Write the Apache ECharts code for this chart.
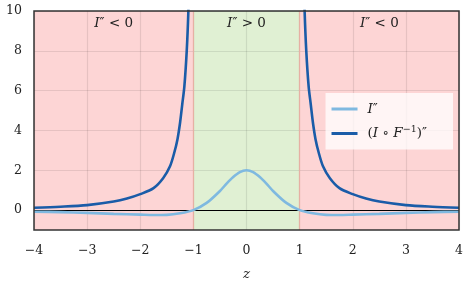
<!DOCTYPE html>
<html><head><meta charset="utf-8">
<script src="https://cdn.jsdelivr.net/npm/echarts@6/dist/echarts.min.js"></script>
<style>html,body{margin:0;padding:0;background:#fff}#c{width:471px;height:291px}</style>
</head><body><div id="c"></div>
<script>
// Data
const xTicks = [-4, -3, -2, -1, 0, 1, 2, 3, 4];
const yTicks = [0, 2, 4, 6, 8, 10];
const lightZ = [-4, -3.5, -3, -2.5, -2, -1.75, -1.5, -1.25, -1, -0.75, -0.5, -0.375, -0.25, -0.125, 0, 0.125, 0.25, 0.375, 0.5, 0.75, 1, 1.25, 1.5, 1.75, 2, 2.5, 3, 3.5, 4];
const lightV = [-0.08, -0.1, -0.14, -0.19, -0.23, -0.25, -0.24, -0.16, 0, 0.36, 0.96, 1.33, 1.66, 1.91, 2, 1.91, 1.66, 1.33, 0.96, 0.36, 0, -0.16, -0.24, -0.25, -0.23, -0.19, -0.14, -0.1, -0.08];
const darkLeftZ = [-4, -3.5, -3, -2.5, -2.25, -2, -1.75, -1.57, -1.44, -1.36, -1.3, -1.25, -1.21, -1.17, -1.125, -1.094, -1.07];
const darkLeftV = [0.12, 0.17, 0.25, 0.43, 0.58, 0.8, 1.1, 1.6, 2.2, 2.88, 3.55, 4.4, 5.3, 6.2, 8.0, 10.0, 12.5];
const darkRightZ = [1.07, 1.094, 1.125, 1.17, 1.21, 1.25, 1.3, 1.36, 1.44, 1.57, 1.75, 2, 2.25, 2.5, 3, 3.5, 4];
const darkRightV = [12.5, 10.0, 8.0, 6.2, 5.3, 4.4, 3.55, 2.88, 2.2, 1.6, 1.1, 0.8, 0.58, 0.43, 0.25, 0.17, 0.12];
const regions = [
  {from: -4, to: -1, label: 'neg'},
  {from: -1, to: 1, label: 'pos'},
  {from: 1, to: 4, label: 'neg'}
];

const serif = '"DejaVu Serif", "Liberation Serif", serif';
const rich = {
  i: {fontFamily: serif, fontStyle: 'italic', fontSize: 13.5, color: '#222'},
  t: {fontFamily: serif, fontSize: 13.5, color: '#222'},
  s: {fontFamily: serif, fontSize: 9.5, color: '#222', verticalAlign: 'top', padding: [0,0,7,0]}
};
const regionLabel = r => r.label === 'neg' ? '{i|I}{t|″ < 0}' : '{i|I}{t|″ > 0}';

const lightData = lightZ.map((z, i) => [z, lightV[i]]);
const darkData = darkLeftZ.map((z, i) => [z, darkLeftV[i]])
  .concat([[0, null]])
  .concat(darkRightZ.map((z, i) => [z, darkRightV[i]]));

const chart = echarts.init(document.getElementById('c'));
chart.setOption({
  animation: false,
  grid: {left: 34, right: 12, top: 11, bottom: 61, show: true, borderColor: '#333', borderWidth: 1.5, z: 6},
  xAxis: {
    type: 'value', min: -4, max: 4, interval: 1, z: 3,
    name: 'z', nameLocation: 'middle', nameGap: 37,
    nameTextStyle: {fontFamily: serif, fontStyle: 'italic', fontSize: 13.5, color: '#222'},
    axisLine: {show: false}, axisTick: {show: false},
    axisLabel: {fontFamily: serif, fontSize: 12.5, color: '#222', margin: 14,
      formatter: v => xTicks.includes(v) ? (v < 0 ? '\u2212' + Math.abs(v) : String(v)) : ''},
    splitLine: {show: true, lineStyle: {color: 'rgba(0,0,0,0.09)', width: 1.2}}
  },
  yAxis: {
    type: 'value', min: -1, max: 10, z: 3,
    axisLine: {show: false},
    axisLabel: {fontFamily: serif, fontSize: 12.5, color: '#222', margin: 12,
      customValues: yTicks},
    axisTick: {show: false, customValues: yTicks},
    splitLine: {show: true, lineStyle: {color: 'rgba(0,0,0,0.09)', width: 1.2}}
  },
  legend: {
    right: 18, top: 93, orient: 'vertical', align: 'left',
    backgroundColor: 'rgba(255,255,255,0.75)', borderWidth: 0,
    padding: [9, 26, 9, 6], itemGap: 9, itemWidth: 26, itemHeight: 3,
    icon: 'rect',
    data: ['Ipp', 'IFpp'],
    formatter: n => n === 'Ipp' ? '{i|I}{t|″}' : '{t|(}{i|I}{t| ∘ }{i|F}{s|−1}{t|)″}',
    textStyle: {rich: rich, padding: [0, 0, 0, 5]}
  },
  series: [
    {
      type: 'line', name: 'bg', data: [], z: 1, silent: true,
      markArea: {
        silent: true,
        data: regions.map(r => [
          {xAxis: r.from, itemStyle: {color: r.label === 'neg' ? '#fdd5d5' : '#e0f0d3'},
           label: {show: true, position: 'insideTop', distance: 5, formatter: regionLabel(r), rich: rich}},
          {xAxis: r.to}
        ])
      },
      markLine: {
        silent: true, symbol: 'none', label: {show: false},
        data: [
          {xAxis: -1, lineStyle: {color: '#e6b0a4', width: 1.2, type: 'solid'}},
          {xAxis: 1, lineStyle: {color: '#e6b0a4', width: 1.2, type: 'solid'}},
          {yAxis: 0, lineStyle: {color: '#000', width: 1, type: 'solid'}}
        ]
      }
    },
    {
      type: 'line', name: 'Ipp', data: lightData, z: 5, showSymbol: false, smooth: 0.3,
      lineStyle: {color: '#7fb9e0', width: 2.6}, itemStyle: {color: '#7fb9e0'}
    },
    {
      type: 'line', name: 'IFpp', data: darkData, z: 5, showSymbol: false, smooth: 0.3,
      connectNulls: false, clip: true,
      lineStyle: {color: '#1a5ca8', width: 2.6}, itemStyle: {color: '#1a5ca8'}
    }
  ]
});
</script></body></html>
